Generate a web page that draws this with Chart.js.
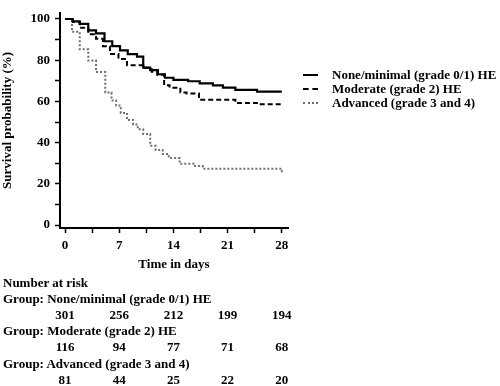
<!DOCTYPE html>
<html>
<head>
<meta charset="utf-8">
<script src="https://cdn.jsdelivr.net/npm/chart.js@4"></script>
<style>
  body { margin: 0; background: #fff; }
  #wrap { position: relative; width: 500px; height: 386px; font-family: "Liberation Serif", "Times New Roman", serif; font-weight: bold; font-size: 13px; color: #000; }
  #wrap canvas { position: absolute; left: 0; top: 0; }
  .txt { position: absolute; line-height: 16px; white-space: nowrap; }
  .num { transform: translateX(-50%); }
  .sample { position: absolute; width: 15px; height: 0; }
</style>
</head>
<body>
<div id="wrap">
  <canvas id="grafico" width="500" height="386"></canvas>
</div>
<script>
// Kaplan-Meier curves (day, survival %)
const groupNames = ['None/minimal (grade 0/1) HE', 'Moderate (grade 2) HE', 'Advanced (grade 3 and 4)'];

const noneDays = [0, 1.0, 1.9, 3.0, 4.0, 5.1, 6.1, 7.1, 8.1, 9.3, 10.1, 11.0, 12.0, 12.9, 14.0, 15.9, 17.4, 19.1, 20.4, 22.0, 24.8, 28];
const noneSurv = [100, 98.8, 97.6, 94.5, 93.0, 89.2, 86.8, 84.8, 83.0, 81.7, 76.4, 75.2, 73.2, 71.5, 70.5, 69.8, 68.8, 67.8, 66.7, 65.6, 64.8, 64.8];

const modDays = [0, 1.0, 1.9, 3.0, 4.0, 4.9, 5.8, 6.9, 8.0, 10.1, 11.2, 11.9, 12.8, 13.5, 14.9, 15.7, 17.3, 22.0, 25.0, 28];
const modSurv = [100, 98.5, 95.7, 92.6, 90.4, 86.8, 83.0, 80.6, 77.5, 76.3, 74.4, 72.9, 67.9, 66.7, 64.3, 63.8, 60.8, 59.2, 58.6, 58.6];

const advDays = [0, 0.9, 1.9, 3.0, 4.0, 5.2, 6.0, 6.6, 7.2, 8.0, 8.8, 9.4, 10.1, 11.0, 11.7, 12.6, 13.4, 14.8, 16.8, 17.8, 28];
const advSurv = [100, 93.8, 85.3, 79.8, 74.3, 64.3, 60.5, 58.0, 54.4, 51.0, 48.8, 46.5, 44.2, 38.5, 36.5, 34.5, 32.6, 29.8, 28.7, 27.4, 25.6];

// ticks
const xTicks = [0, 3.5, 7, 10.5, 14, 17.5, 21, 24.5, 28];
const yTicks = [0, 10, 20, 30, 40, 50, 60, 70, 80, 90, 100];

// number at risk
const riskDays = [0, 7, 14, 21, 28];
const riskNone = [301, 256, 212, 199, 194];
const riskModerate = [116, 94, 77, 71, 68];
const riskAdvanced = [81, 44, 25, 22, 20];

const font = { family: 'Liberation Serif', weight: 'bold', size: 13 };

function pontos(dias, valores) {
  return dias.map((d, i) => ({ x: d, y: valores[i] }));
}

const chart = new Chart(document.getElementById('grafico'), {
  type: 'line',
  data: {
    datasets: [
      { label: groupNames[0], data: pontos(noneDays, noneSurv), stepped: true, borderColor: '#000', borderWidth: 2.2 },
      { label: groupNames[1], data: pontos(modDays, modSurv), stepped: true, borderColor: '#000', borderWidth: 2, borderDash: [5, 3] },
      { label: groupNames[2], data: pontos(advDays, advSurv), stepped: true, borderColor: '#6e6e6e', borderWidth: 2, borderDash: [2, 2] },
    ],
  },
  options: {
    responsive: false,
    animation: false,
    pointRadius: 0,
    elements: { point: { radius: 0 } },
    layout: { padding: { left: 0, top: 3, right: 212, bottom: 110 } },
    plugins: { legend: { display: false }, tooltip: { enabled: false } },
    scales: {
      x: {
        type: 'linear',
        min: -0.65,
        max: 28.8,
        afterBuildTicks: s => { s.ticks = xTicks.map(v => ({ value: v })); },
        afterFit: s => { s.height = 48; },
        ticks: { autoSkip: false, maxRotation: 0, padding: 5, color: '#000', font: font,
          callback: v => (v % 7 === 0 ? v : '') },
        grid: { drawOnChartArea: false, drawTicks: true, tickLength: 5, tickColor: '#000', tickWidth: 1.5 },
        border: { color: '#000', width: 2 },
        title: { display: true, text: 'Time in days', color: '#000', font: font, padding: { top: 0, bottom: 4 } },
      },
      y: {
        min: -1.4,
        max: 103,
        afterBuildTicks: s => { s.ticks = yTicks.map(v => ({ value: v })); },
        afterFit: s => { s.width = 60; },
        ticks: { autoSkip: false, padding: 5, color: '#000', font: font,
          callback: v => (v % 20 === 0 ? v : '') },
        grid: { drawOnChartArea: false, drawTicks: true, tickLength: 5, tickColor: '#000', tickWidth: 1.5 },
        border: { color: '#000', width: 2 },
        title: { display: true, text: 'Survival probability (%)', color: '#000', font: font, padding: { top: 0, bottom: 4 } },
      },
    },
  },
});

// legend and risk table as html text
const wrap = document.getElementById('wrap');

function texto(str, x, cy, classe) {
  const el = document.createElement('div');
  el.className = 'txt' + (classe ? ' ' + classe : '');
  el.textContent = str;
  el.style.left = x + 'px';
  el.style.top = (cy - 8) + 'px';
  wrap.appendChild(el);
}

const legendStyles = ['2px solid #000', '2px dashed #000', '2px dotted #6e6e6e'];
groupNames.forEach((nome, i) => {
  const cy = 75 + i * 14;
  const s = document.createElement('div');
  s.className = 'sample';
  s.style.left = '303px';
  s.style.top = (cy - 1) + 'px';
  s.style.borderTop = legendStyles[i];
  wrap.appendChild(s);
  texto(nome, 332, cy);
});

const xScale = chart.scales.x;
const rowStep = 16.2;
let cy = 282.5;
texto('Number at risk', 3, cy);
[riskNone, riskModerate, riskAdvanced].forEach((linha, g) => {
  cy += rowStep;
  texto('Group: ' + groupNames[g], 3, cy);
  cy += rowStep;
  linha.forEach((n, i) => texto(String(n), xScale.getPixelForValue(riskDays[i]), cy, 'num'));
});
</script>
</body>
</html>
